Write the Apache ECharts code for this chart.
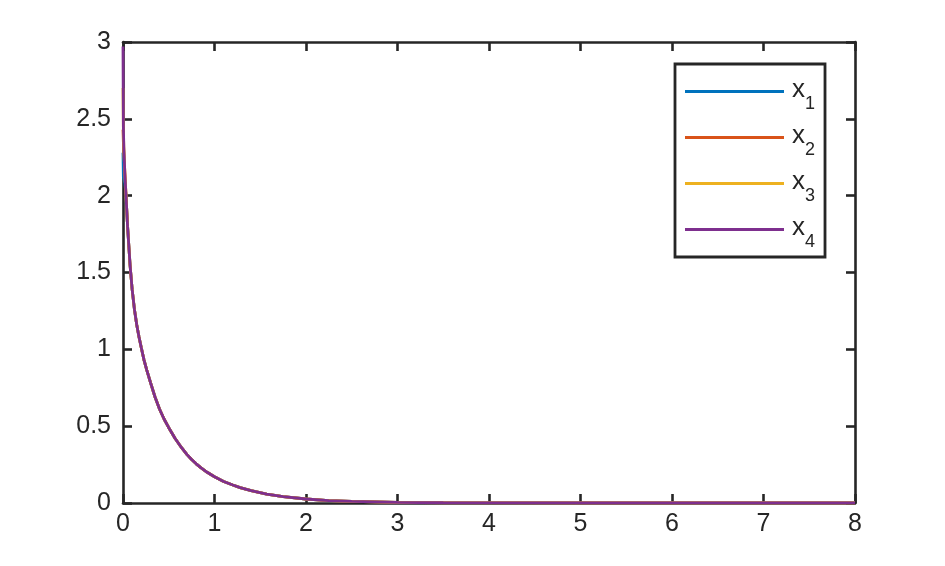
<!DOCTYPE html>
<html>
<head>
<meta charset="utf-8">
<script src="https://cdn.jsdelivr.net/npm/echarts@6/dist/echarts.min.js"></script>
<style>
html,body{margin:0;padding:0;background:#fff;}
#c{width:945px;height:566px;}
</style>
</head>
<body>
<div id="c"></div>
<script>
// time samples (s)
const t = [0, 0.004, 0.01, 0.02, 0.033, 0.05, 0.077, 0.1, 0.125, 0.15, 0.175, 0.2, 0.23, 0.26, 0.3, 0.35, 0.4, 0.45, 0.5, 0.57, 0.64, 0.7, 0.75, 0.8, 0.85, 0.92, 1.0, 1.1, 1.2, 1.28, 1.4, 1.57, 1.75, 2.0, 2.25, 2.5, 3, 3.5, 4, 5, 6, 7, 8];
// state trajectories
const x4 = [2.97, 2.45, 2.3, 2.15, 2.0, 1.8, 1.55, 1.39, 1.26, 1.16, 1.08, 1.01, 0.93, 0.865, 0.785, 0.69, 0.61, 0.545, 0.49, 0.42, 0.36, 0.315, 0.283, 0.255, 0.23, 0.2, 0.171, 0.14, 0.117, 0.1, 0.08, 0.058, 0.042, 0.026, 0.016, 0.01, 0.004, 0.0015, 0.0006, 0.0001, 0, 0, 0];
const x3 = [2.7, 2.42, 2.29].concat(x4.slice(3));
const x2 = [2.43, 2.35, 2.28].concat(x4.slice(3));
const x1 = [2.28, 2.12, 2.12, 2.08].concat(x4.slice(4));
const seriesNames = ['x1', 'x2', 'x3', 'x4'];
const subs = ['1', '2', '3', '4'];
const colors = ['#0072BD', '#D95319', '#EDB120', '#7E2F8E'];
const xTicks = {min: 0, max: 8, interval: 1};
const yTicks = {min: 0, max: 3, interval: 0.5};

const axisColor = '#262626';
const font = '"Liberation Sans", Arial, Helvetica, sans-serif';
const chart = echarts.init(document.getElementById('c'), null, {renderer: 'canvas'});

function pairs(ys) { return t.map((v, i) => [v, ys[i]]); }
const all = [x1, x2, x3, x4];

function axisCommon(showLabel, margin) {
  return {
    axisLine: {show: true, onZero: false, lineStyle: {color: axisColor, width: 2.6}},
    axisTick: {show: true, inside: true, length: 9, lineStyle: {color: axisColor, width: 2.6}},
    axisLabel: {show: showLabel, color: axisColor, fontSize: 25, fontFamily: font, margin: margin},
    splitLine: {show: false}
  };
}

chart.setOption({
  animation: false,
  backgroundColor: '#fff',
  grid: {left: 123, right: 90, top: 42, bottom: 63, containLabel: false},
  xAxis: [
    Object.assign({type: 'value', position: 'bottom'}, xTicks, axisCommon(true, 9)),
    Object.assign({type: 'value', position: 'top'}, xTicks, axisCommon(false, 9))
  ],
  yAxis: [
    Object.assign({type: 'value', position: 'left'}, yTicks, axisCommon(true, 12)),
    Object.assign({type: 'value', position: 'right'}, yTicks, axisCommon(false, 12))
  ],
  legend: {
    orient: 'vertical',
    left: 675, top: 64,
    padding: [6, 10, 6, 10],
    itemGap: 3,
    itemWidth: 99, itemHeight: 3,
    icon: 'rect',
    borderColor: axisColor, borderWidth: 2.8,
    backgroundColor: '#fff',
    data: seriesNames,
    formatter: function (name) { return '{a|x}{b|' + subs[seriesNames.indexOf(name)] + '}'; },
    textStyle: {
      rich: {
        a: {fontSize: 26, lineHeight: 26, padding: [0, 0, 4, 3], color: axisColor, fontFamily: font},
        b: {fontSize: 18, lineHeight: 18, padding: [25, 0, 0, 0], color: axisColor, fontFamily: font}
      }
    }
  },
  series: seriesNames.map((n, i) => ({
    name: n,
    type: 'line',
    data: pairs(all[i]),
    showSymbol: false,
    symbol: 'none',
    smooth: false,
    lineStyle: {color: colors[i], width: 2.8},
    itemStyle: {color: colors[i]},
    clip: true
  }))
});
</script>
</body>
</html>
